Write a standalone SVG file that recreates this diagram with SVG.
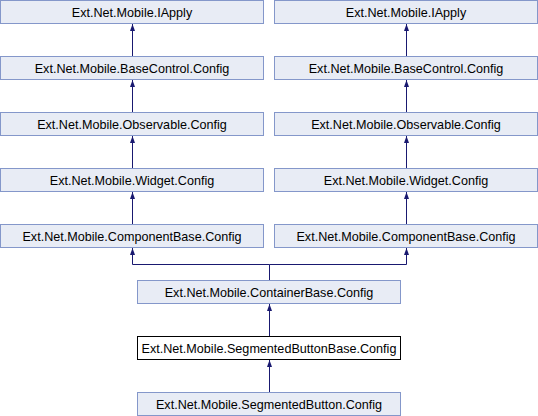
<svg xmlns="http://www.w3.org/2000/svg" width="538" height="416" viewBox="0 0 538 416">
<defs>
<style>
.n rect{fill:#E8ECF5;stroke:#8497CA;stroke-width:1}
.h rect{fill:#FFFFFF;stroke:#000000;stroke-width:1}
text{font-family:"Liberation Sans",Arial,sans-serif;font-size:12.6px;fill:#000;text-anchor:middle}
.e{stroke:#191970;stroke-width:1;fill:none}
</style>
<marker id="a" viewBox="0 0 7 6" refX="7" refY="3" markerWidth="7" markerHeight="6" markerUnits="userSpaceOnUse" orient="auto">
<path d="M0,0.5 L7,3 L0,5.5 Z" fill="#191970"/>
</marker>
</defs>
<g id="connectors">
<path class="e" d="M132.5,56.5 V24" marker-end="url(#a)"/>
<path class="e" d="M132.5,112.5 V80" marker-end="url(#a)"/>
<path class="e" d="M132.5,168.5 V136" marker-end="url(#a)"/>
<path class="e" d="M132.5,224.5 V192" marker-end="url(#a)"/>
<path class="e" d="M406.5,56.5 V24" marker-end="url(#a)"/>
<path class="e" d="M406.5,112.5 V80" marker-end="url(#a)"/>
<path class="e" d="M406.5,168.5 V136" marker-end="url(#a)"/>
<path class="e" d="M406.5,224.5 V192" marker-end="url(#a)"/>
<path class="e" d="M269.5,280.5 V264.5 H132.5 V248" marker-end="url(#a)"/>
<path class="e" d="M269.5,264.5 H406.5 V248" marker-end="url(#a)"/>
<path class="e" d="M269.5,336.5 V304" marker-end="url(#a)"/>
<path class="e" d="M269.5,392.5 V360" marker-end="url(#a)"/>
</g>
<g id="iapply_l" class="n"><rect x="0.5" y="0.5" width="263" height="23"/><text x="132" y="16.5">Ext.Net.Mobile.IApply</text></g>
<g id="iapply_r" class="n"><rect x="274.5" y="0.5" width="263" height="23"/><text x="406" y="16.5">Ext.Net.Mobile.IApply</text></g>
<g id="basecontrol_l" class="n"><rect x="0.5" y="56.5" width="263" height="23"/><text x="132" y="72.5">Ext.Net.Mobile.BaseControl.Config</text></g>
<g id="basecontrol_r" class="n"><rect x="274.5" y="56.5" width="263" height="23"/><text x="406" y="72.5">Ext.Net.Mobile.BaseControl.Config</text></g>
<g id="observable_l" class="n"><rect x="0.5" y="112.5" width="263" height="23"/><text x="132" y="128.5">Ext.Net.Mobile.Observable.Config</text></g>
<g id="observable_r" class="n"><rect x="274.5" y="112.5" width="263" height="23"/><text x="406" y="128.5">Ext.Net.Mobile.Observable.Config</text></g>
<g id="widget_l" class="n"><rect x="0.5" y="168.5" width="263" height="23"/><text x="132" y="184.5">Ext.Net.Mobile.Widget.Config</text></g>
<g id="widget_r" class="n"><rect x="274.5" y="168.5" width="263" height="23"/><text x="406" y="184.5">Ext.Net.Mobile.Widget.Config</text></g>
<g id="componentbase_l" class="n"><rect x="0.5" y="224.5" width="263" height="23"/><text x="132" y="240.5">Ext.Net.Mobile.ComponentBase.Config</text></g>
<g id="componentbase_r" class="n"><rect x="274.5" y="224.5" width="263" height="23"/><text x="406" y="240.5">Ext.Net.Mobile.ComponentBase.Config</text></g>
<g id="containerbase" class="n"><rect x="137.5" y="280.5" width="263" height="23"/><text x="269" y="296.5">Ext.Net.Mobile.ContainerBase.Config</text></g>
<g id="segmentedbuttonbase" class="h"><rect x="137.5" y="336.5" width="263" height="23"/><text x="269" y="352.5">Ext.Net.Mobile.SegmentedButtonBase.Config</text></g>
<g id="segmentedbutton" class="n"><rect x="137.5" y="392.5" width="263" height="23"/><text x="269" y="408.5">Ext.Net.Mobile.SegmentedButton.Config</text></g>
</svg>
